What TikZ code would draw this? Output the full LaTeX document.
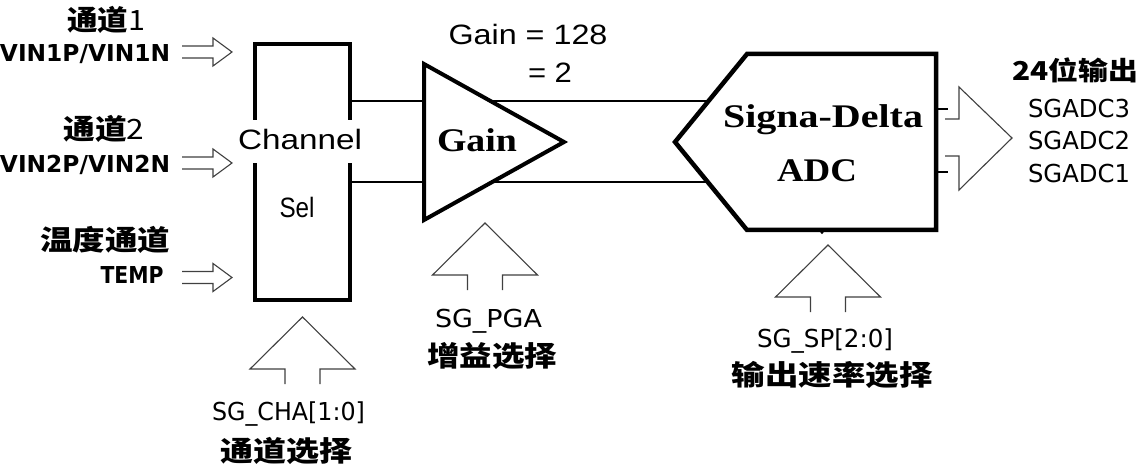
\documentclass[tikz,border=0pt]{standalone}
\usepackage{fontspec}
\usepackage{graphicx}
\setmainfont{Liberation Sans}
\newfontfamily\dvs{DejaVu Sans}
\newfontfamily\tnr{Liberation Serif}
\newfontfamily\cjk{Noto Sans CJK SC}
\newcommand{\fw}[2]{\resizebox{#1pt}{\height}{#2}}
\begin{document}
\begin{tikzpicture}[x=1pt,y=-1pt,
  boxline/.style={line width=4pt, line join=miter},
  wire/.style={line width=2pt},
  hollow/.style={line width=1.1pt, draw=black!75},
  txt/.style={inner sep=0pt, anchor=base},
  cjkb/.style={txt, font=\cjk\bfseries\fontsize{28}{30}\selectfont},
  cjks/.style={txt, font=\cjk\bfseries\fontsize{26}{28}\selectfont},
  vin/.style={txt, font=\dvs\bfseries\fontsize{23.3}{26}\selectfont},
  sg/.style={txt, font=\dvs\fontsize{24.7}{27}\selectfont},
  ar/.style={txt, font=\fontsize{28}{30}\selectfont},
  tr/.style={txt, font=\tnr\bfseries\fontsize{33}{36}\selectfont},
  inarr/.pic={\draw[hollow] (-50,-6) -- (-19,-6) -- (-19,-14) -- (0,0) -- (-19,14) -- (-19,6) -- (-50,6);},
  uparr/.pic={\draw[hollow] (-17.5,67) -- (-17.5,52) -- (-52.5,52) -- (0,0) -- (52.5,52) -- (17.5,52) -- (17.5,67);}
]
\useasboundingbox (0,0) rectangle (1145,470);
\fill[white] (0,0) rectangle (1145,470);

% ---- input labels and arrows
\node[cjkb] (l1)  at (106,31)  {\fw{78}{通道{\mdseries 1}}};
\node[vin]  (v1)  at (85,62)   {\fw{170}{VIN1P/VIN1N}};
\node[cjkb] (l2)  at (104,140) {\fw{81}{通道{\mdseries 2}}};
\node[vin]  (v2)  at (85,173)  {\fw{170}{VIN2P/VIN2N}};
\node[cjkb] (l3)  at (105,251) {\fw{130}{温度通道}};
\node[vin]  (v3)  at (132,283) {\fw{63}{TEMP}};
\pic (in1) at (232,52) {inarr};
\pic (in2) at (232,163) {inarr};
\pic (in3) at (232,277.5) {inarr};

% ---- channel select box
\node[draw, boxline, minimum width=95pt, minimum height=255pt, inner sep=0pt] (chsel) at (302,172) {};
\fill[white] (240,120) rectangle (364,163);
\node[ar] (chtxt) at (300,150) {\fw{124}{Channel}};
\node[ar] (seltxt) at (297,218) {\fw{35}{Sel}};

% ---- wires
\coordinate (w1s) at (chsel.east |- 0,101.5);
\coordinate (w2s) at (chsel.east |- 0,182);
\coordinate (w1e) at (710,101.5);
\coordinate (w2e) at (710,182);
\draw[wire] (w1s) -- (w1e);
\draw[wire] (w2s) -- (w2e);

% ---- gain triangle
\draw[boxline, fill=white] (424,64) coordinate (gtop) -- (564,142) coordinate (gtip) -- (424,220) coordinate (gbot) -- cycle;
\node[tr] (gaintxt) at (477,152) {\fw{80}{Gain}};
\node[ar] (g128) at (528,45) {\fw{159}{Gain = 128}};
\node[ar] (g2) at (550,83) {\fw{44}{= 2}};

% ---- ADC hexagon
\draw[line width=4.5pt, line join=miter, fill=white] (675,142) coordinate (adcl) -- (747,54) -- (936,54) coordinate (adctr) -- (936,230) coordinate (adcbr) -- (747,230) -- cycle;
\fill (822,232.5) circle (1.6pt);
\node[tr] (sdtxt) at (823,128) {\fw{200}{Signa-Delta}};
\node[tr] (adctxt) at (817,182) {\fw{80}{ADC}};

% ---- output
\coordinate (o1) at (938,109);
\coordinate (o2) at (938,172);
\draw[line width=1.5pt] (o1) -- ++(10,0);
\draw[line width=1.5pt] (o2) -- ++(10,0);
\draw[hollow] (945,119) -- (959,119) -- (959,87) -- (1012,138) -- (959,190) -- (959,156) -- (945,156);
\node[cjks] (outl) at (1075,81) {\fw{126}{24位输出}};
\node[sg] (sg3) at (1079,118) {\fw{102}{SGADC3}};
\node[sg] (sg2) at (1079,150) {\fw{102}{SGADC2}};
\node[sg] (sg1) at (1079,183) {\fw{102}{SGADC1}};

% ---- control arrows
\pic (ua1) at (302.5,317) {uparr};
\pic (ua2) at (485,223) {uparr};
\pic (ua3) at (828,245) {uparr};
\node[sg]   (cha)  at (288.5,420) {\fw{153}{SG\_CHA[1:0]}};
\node[cjkb] (chal) at (286,461)   {\fw{132}{通道选择}};
\node[sg]   (pga)  at (488.5,327) {\fw{107}{SG\_PGA}};
\node[cjkb] (pgal) at (492,366)   {\fw{130}{增益选择}};
\node[sg]   (sp)   at (825,347)   {\fw{136}{SG\_SP[2:0]}};
\node[cjkb] (spl)  at (832,385)   {\fw{201}{输出速率选择}};
\end{tikzpicture}
\end{document}
